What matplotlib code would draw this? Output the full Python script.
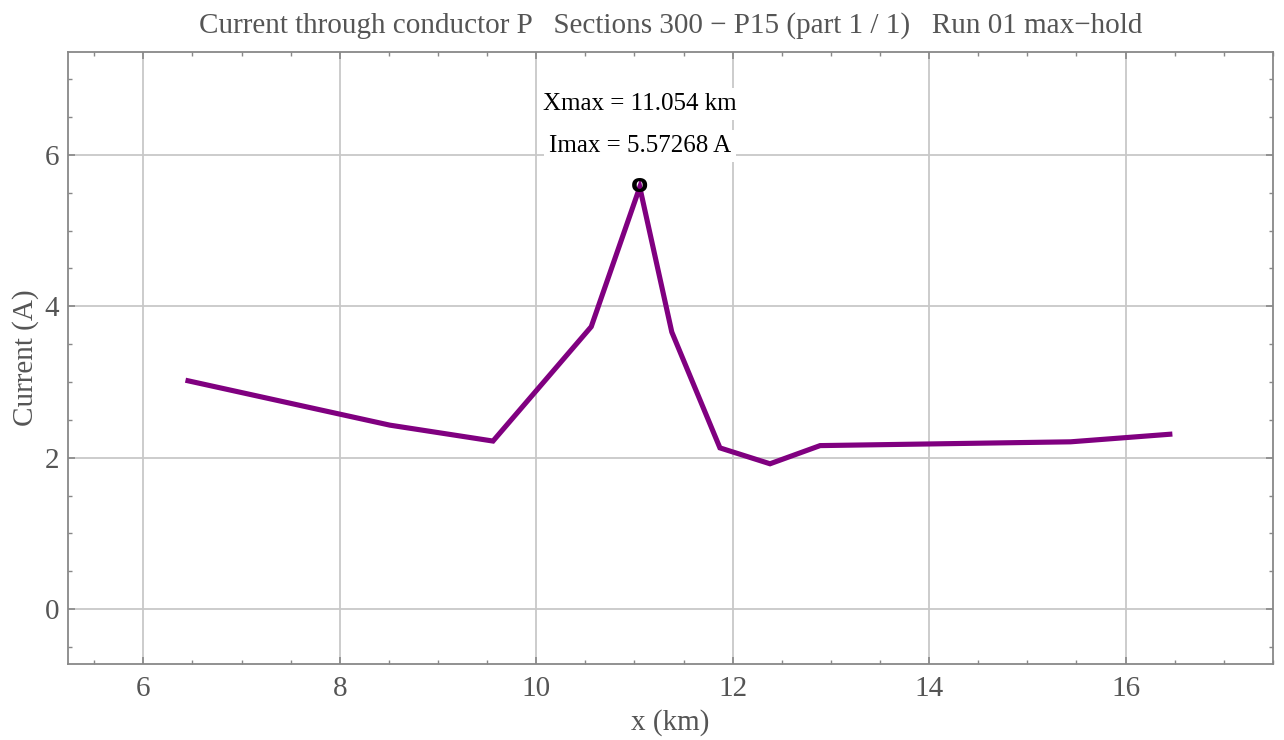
import matplotlib
matplotlib.use("Agg")
import matplotlib.pyplot as plt
from matplotlib.ticker import MultipleLocator

# Data
x_km = [6.455, 8.51, 9.56, 10.56, 11.054, 11.38, 11.87, 12.38, 12.89, 15.44, 16.45]
current_a = [3.016, 2.43, 2.22, 3.73, 5.57268, 3.66, 2.13, 1.92, 2.16, 2.21, 2.31]
xmax_km = 11.054
imax_a = 5.57268
title = "Current through conductor P   Sections 300 \u2212 P15 (part 1 / 1)   Run 01 max\u2212hold"
xlabel = "x (km)"
ylabel = "Current (A)"

serif = ["Liberation Serif", "DejaVu Serif"]
gray_txt = "#555555"
frame = "#888888"

fig = plt.figure(figsize=(12.84, 7.40), dpi=100)
ax = fig.add_axes([0.0527, 0.1031, 0.9387, 0.8269])

ax.plot(x_km, current_a, color="#800080", lw=3.7, solid_joinstyle="miter", zorder=3)
ax.annotate("o", xy=(xmax_km, imax_a), xytext=(0, 2), textcoords="offset pixels",
            ha="center", va="center", fontsize=18, fontweight="bold",
            family=["DejaVu Sans"], color="black", zorder=4)

ax.annotate(f"Imax = {imax_a:.5f} A", xy=(xmax_km, imax_a), xytext=(0, 41),
            textcoords="offset pixels", ha="center", va="center", fontsize=18,
            family=serif, color="black", zorder=5,
            bbox=dict(boxstyle="square,pad=0.2", fc="white", ec="none"))
ax.annotate(f"Xmax = {xmax_km:.3f} km", xy=(xmax_km, imax_a), xytext=(0, 83),
            textcoords="offset pixels", ha="center", va="center", fontsize=18,
            family=serif, color="black", zorder=5,
            bbox=dict(boxstyle="square,pad=0.2", fc="white", ec="none"))

ax.set_xlim(5.23, 17.5)
ax.set_ylim(-0.72, 7.36)
ax.xaxis.set_major_locator(MultipleLocator(2))
ax.xaxis.set_minor_locator(MultipleLocator(0.5))
ax.yaxis.set_major_locator(MultipleLocator(2))
ax.yaxis.set_minor_locator(MultipleLocator(0.5))
ax.grid(True, which="major", color="#c8c8c8", lw=1.3, zorder=0)
ax.tick_params(which="both", direction="in", top=True, right=True, color=frame,
               labelcolor=gray_txt, labelsize=21)
ax.tick_params(axis="x", which="both", pad=9)
ax.tick_params(axis="y", which="both", pad=6)
ax.tick_params(which="major", length=5, width=1.2)
ax.tick_params(which="minor", length=3, width=1.0)
for lab in ax.get_xticklabels() + ax.get_yticklabels():
    lab.set_family(serif)
for s in ax.spines.values():
    s.set_color(frame)
    s.set_linewidth(1.3)

ax.set_title(title, fontsize=21, family=serif, color=gray_txt, pad=14)
ax.set_xlabel(xlabel, fontsize=21, family=serif, color=gray_txt, labelpad=5)
ax.set_ylabel(ylabel, fontsize=21, family=serif, color=gray_txt, labelpad=4)

fig.savefig("out.png", dpi=100)
